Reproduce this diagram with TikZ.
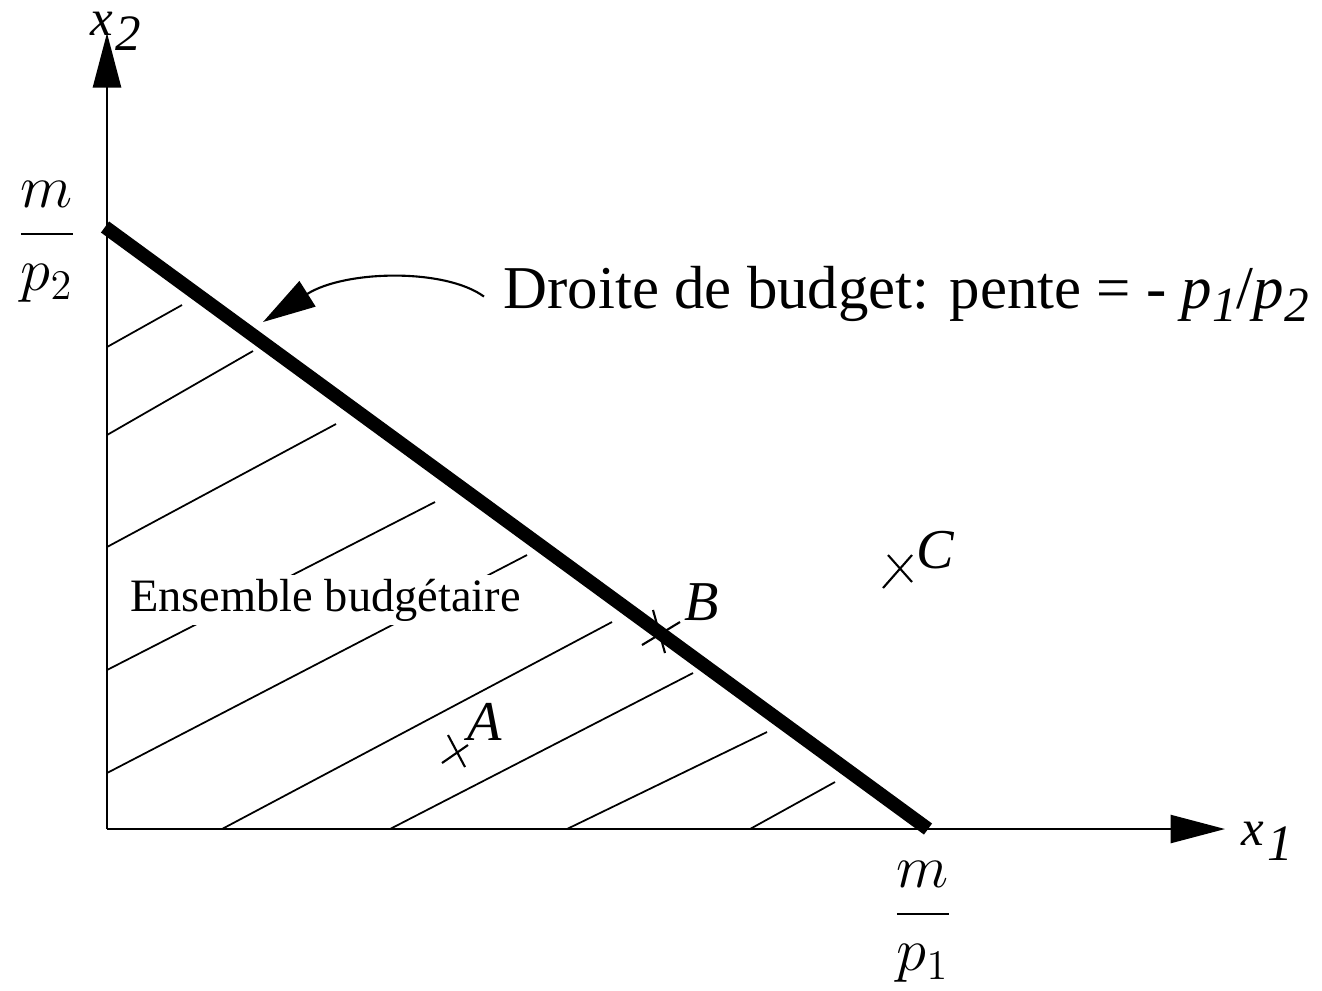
\documentclass[tikz,border=0pt]{standalone}
\usepackage{fontspec}
\setmainfont{Liberation Serif}
\usetikzlibrary{arrows.meta,calc}
\begin{document}
\begin{tikzpicture}[x=0.01cm,y=-0.01cm,
  axis/.style={line width=0.6pt,-{Triangle[length=15.5pt,width=8pt]}},
  hatch/.style={line width=0.5pt},
  budget/.style={line width=3.9pt},
  crossline/.style={line width=0.6pt},
  ptlabel/.style={font=\fontsize{16}{16}\selectfont\itshape,anchor=base west,inner sep=0pt},
  axlabel/.style={font=\fontsize{14.5}{14.5}\selectfont\itshape,anchor=base west,inner sep=0pt},
  fraclabel/.style={font=\fontsize{17.6}{20}\selectfont,anchor=base,inner sep=0pt}]
\useasboundingbox (0,0) rectangle (1322,990);

% coordinates
\coordinate (O) at (107,829);
\coordinate (Y) at (107,33);
\coordinate (X) at (1225,829);
\coordinate (M2) at (105,227);
\coordinate (M1) at (928,829);
\coordinate (T) at (263,322);
\coordinate (A) at (455,752);
\coordinate (B) at (660,632);
\coordinate (C) at (899,569);

% hatch lines
\draw[hatch] (107,347) -- (182,305);
\draw[hatch] (107,435) -- (253,351);
\draw[hatch] (107,547) -- (336,424);
\draw[hatch] (107,670) -- (435,502);
\draw[hatch] (107,773) -- (527,555);
\draw[hatch] (222,829) -- (612,622);
\draw[hatch] (390,829) -- (693,673);
\draw[hatch] (567,829) -- (767,732);
\draw[hatch] (750,829) -- (835,782);

% set label (hides hatch behind it)
\node[font=\fontsize{13.2}{13}\selectfont,anchor=base west,fill=white,inner sep=1pt] (set) at (126,611) {Ensemble budgétaire};

% axes
\draw[axis] (O) -- (Y);
\draw[axis] (O) -- (X);

% budget line
\draw[budget] (M2) -- (M1);

% crosses
\draw[crossline] ($(A)+(-13,11)$) -- ($(A)+(13,-7)$);
\draw[crossline] ($(A)+(-7,-17)$) -- ($(A)+(10,15)$);
\draw[crossline] ($(B)+(-18,13)$) -- ($(B)+(20,-10)$);
\draw[crossline] ($(B)+(-7,-22)$) -- ($(B)+(5,21)$);
\draw[crossline] ($(C)+(-16,19)$) -- ($(C)+(13,-14)$);
\draw[crossline] ($(C)+(-11,-14)$) -- ($(C)+(13,13)$);

% point labels
\node[ptlabel] (la) at (467,740) {A};
\node[ptlabel] (lb) at (684,620) {B};
\node[ptlabel] (lc) at (916,568) {C};

% axis labels
\node[axlabel] (lx1) at (1241,845) {x\kern1pt\raisebox{-4.3pt}{1}};
\node[axlabel] (lx2) at (90,35) {x\kern0.5pt\raisebox{-4.3pt}{2}};

% fractions
\node[fraclabel] (f2) at (47,249) {$\displaystyle\frac{m}{p_2}$};
\node[fraclabel] (f1) at (923,929) {$\displaystyle\frac{m}{p_1}$};

% budget line label and arrow
\node[font=\fontsize{17.3}{20}\selectfont,anchor=base west,inner sep=0pt] (lbl) at (503,308)
  {Droite de budget: pente = - \textit{p}\raisebox{-0.22em}{\textit{\fontsize{14}{14}\selectfont 1}}/\textit{p}\raisebox{-0.22em}{\textit{\fontsize{14}{14}\selectfont 2}}};
\draw[line width=0.6pt,-{Triangle[length=15pt,width=8.5pt]}] ($(lbl.west)+(-19,3)$) .. controls (445,268) and (345,270) .. (T);
\end{tikzpicture}
\end{document}
